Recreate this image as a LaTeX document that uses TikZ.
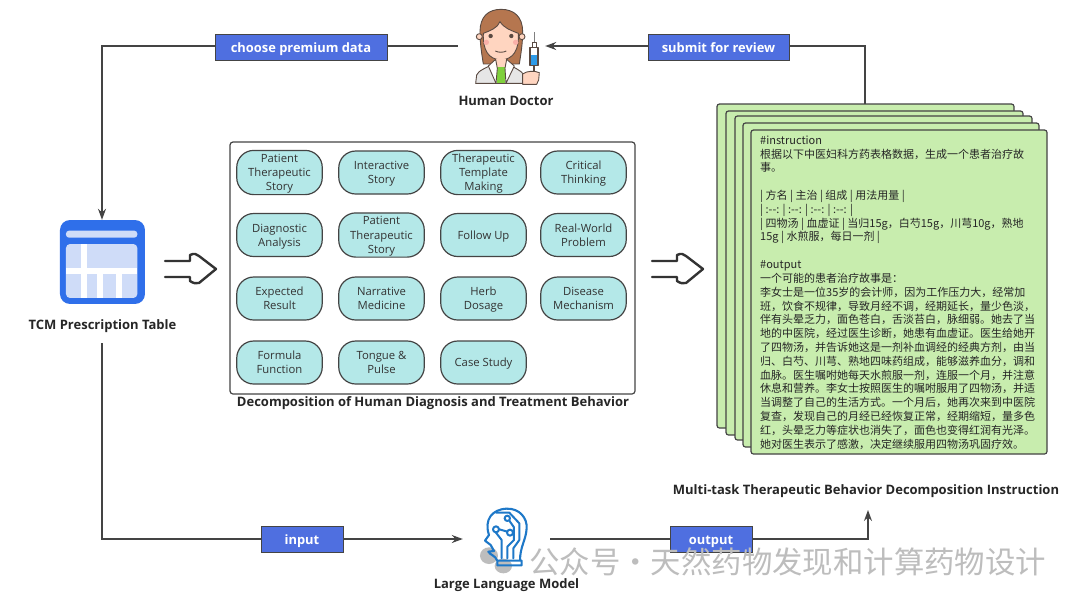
\documentclass[tikz,border=0pt]{standalone}
\usepackage{fontspec}
\setmainfont{Open Sans}
\newfontfamily\cjk{Noto Sans CJK SC}
\usetikzlibrary{arrows.meta}
\definecolor{linec}{HTML}{444444}
\definecolor{labelblue}{HTML}{4F6FE0}
\definecolor{pillfill}{HTML}{B4E8E8}
\definecolor{cardfill}{HTML}{C8EDAE}
\definecolor{tblue}{HTML}{2F6FEA}
\definecolor{tlight}{HTML}{CFDCF8}
\definecolor{iconline}{HTML}{5A4A42}
\definecolor{llmblue}{HTML}{1E78C8}
\definecolor{wm}{HTML}{BDBDBD}
\definecolor{hair}{HTML}{B5764F}
\definecolor{skin}{HTML}{FFD5C0}
\definecolor{cheek}{HTML}{F9B0A8}
\definecolor{coat}{HTML}{E6E6E6}
\definecolor{shirt}{HTML}{7FD03C}
\definecolor{fluid}{HTML}{2E9BE8}
\newcommand\pf{\rule{0pt}{12pt}}
\newcommand\pl{\rule[-3.8pt]{0pt}{3.8pt}}
\tikzset{
  conn/.style={draw=linec,line width=1.3pt},
  arr/.style={conn,-{Stealth[length=11pt,width=8pt]}},
  taglabel/.style={draw=linec,line width=0.9pt,fill=labelblue,text=white,font=\fontsize{12.9}{14}\selectfont\bfseries,minimum height=26pt,inner sep=0pt,anchor=center,text height=12.5pt,text depth=2pt},
  pill/.style={draw=linec,line width=1.2pt,fill=pillfill,rounded corners=17pt,minimum width=85.5pt,minimum height=43pt,inner sep=0pt,align=center,text=black!80,font=\fontsize{11.3}{14.2}\selectfont},
  caption/.style={font=\fontsize{13}{15}\selectfont\bfseries,text=black!85,inner sep=0pt},
  card/.style={draw=linec,line width=1.2pt,fill=cardfill,rounded corners=2.5pt},
  bigarrow/.style={draw=black!80,line width=2.4pt,line cap=round,line join=round},
  ghost/.style={inner sep=0pt,minimum width=#1},
}
\begin{document}
\begin{tikzpicture}[x=1pt,y=-1pt]
\useasboundingbox (0,0) rectangle (1080,606);
\fill[white] (0,0) rectangle (1080,606);

% anchors
\node[ghost=87pt,minimum height=74pt] (doctor) at (501.5,46) {};
\node[ghost=84pt,minimum height=84pt] (table) at (102,262) {};
\node[caption] (tablecap) at (102.5,326.5) {TCM Prescription Table};
\node[ghost=87pt,minimum height=60pt] (llm) at (506.5,539) {};
\coordinate (stacktop) at (865,104);
\coordinate (resultcap) at (868,510);
\coordinate (tl) at (102,46);
\coordinate (tr) at (865,46);
\coordinate (bl) at (102,539);
\coordinate (br) at (868,539);
\coordinate (tb) at (102,343);

% connectors
\draw[arr] (doctor.west) -- (tl) -- (table.north);
\draw[arr] (stacktop) -- (tr) -- (doctor.east);
\draw[arr] (tb) -- (bl) -- (llm.west);
\draw[arr] (llm.east) -- (br) -- (resultcap);

% connector labels
\node[taglabel,minimum width=172pt] (choose) at (301,47) {choose premium data};
\node[taglabel,minimum width=141pt] (submit) at (718.5,47) {submit for review};
\node[taglabel,minimum width=82pt] (input) at (302,539) {input};
\node[taglabel,minimum width=82pt] (output) at (711,539) {output};

% doctor icon
\begin{scope}[shift={(420,0)},x=0.3333pt,y=-0.3333pt,line join=round]
  \fill[coat,draw=iconline,line width=0.9pt] (167,250) -- (170,225) .. controls (175,212) and (195,205) .. (225,190) -- (262,190) .. controls (285,205) and (305,212) .. (312,225) -- (312,250) -- cycle;
  \fill[shirt] (232,200) rectangle (255,250);
  \fill[hair,draw=iconline,line width=0.9pt] (190,192) .. controls (185,160) and (180,130) .. (180,95) .. controls (180,50) and (205,28) .. (243,28) .. controls (282,28) and (308,50) .. (308,95) .. controls (308,130) and (303,160) .. (298,192) -- cycle;
  \fill[skin,draw=iconline,line width=0.9pt] (178,110) circle (9) (306,110) circle (9);
  \fill[skin,draw=iconline,line width=0.9pt] (190,100) .. controls (210,92) and (232,85) .. (240,65) .. controls (252,85) and (275,92) .. (295,100) .. controls (298,150) and (280,178) .. (243,180) .. controls (205,178) and (188,150) .. (190,100) -- cycle;
  \fill[cheek] (199,127) circle (8) (287,127) circle (8);
  \fill[iconline] (212,108) circle (6.5) (274,108) circle (6.5);
  \draw[iconline,line width=0.9pt] (226,153) .. controls (235,158) and (250,158) .. (259,153);
  \fill[skin] (225,178) rectangle (262,200);
  \fill[white,draw=iconline,line width=0.9pt] (227,178) -- (205,198) -- (228,250) -- (232,205) -- cycle;
  \fill[white,draw=iconline,line width=0.9pt] (260,178) -- (283,198) -- (258,250) -- (255,205) -- cycle;
  \draw[iconline,line width=0.9pt] (167,250) -- (312,250);
  \draw[gray,line width=0.9pt] (342,97) -- (342,128);
  \fill[white,draw=iconline,line width=0.9pt] (336,128) rectangle (348,143);
  \fill[white] (330,143) rectangle (354,197);
  \fill[fluid] (331,166) rectangle (353,196);
  \draw[iconline,line width=1.3pt] (330,143) rectangle (354,197);
  \draw[iconline,line width=1.5pt] (342,197) -- (342,215);
  \fill[skin,draw=iconline,line width=0.9pt] (308,222) .. controls (320,212) and (345,212) .. (358,218) -- (356,240) -- (350,253) -- (308,253) -- cycle;
\end{scope}
\node[caption] (doctorcap) at (506,100.5) {Human Doctor};

% table icon
\begin{scope}[shift={(20,200)},x=0.3333pt,y=-0.3333pt]
  \fill[tblue,rounded corners=10pt] (120,60) rectangle (375,312);
  \fill[tlight,rounded corners=3pt] (138,92) rectangle (352,113);
  \fill[tlight,rounded corners=4pt] (138,132) rectangle (352,294);
  \fill[white] (183,132) rectangle (202,294);
  \fill[white] (138,203) rectangle (352,222);
  \fill[white] (232,222) rectangle (250,294);
  \fill[white] (288,222) rectangle (306,294);
\end{scope}

% big arrows
\draw[bigarrow] (165,261) -- (190,261) -- (190,255) .. controls (194,253) and (197,254) .. (199,256) -- (216,269) -- (199,283) .. controls (196,284) and (193,283) .. (190,281) -- (190,277) -- (165,277);
\draw[bigarrow,shift={(487,0)}] (165,261) -- (190,261) -- (190,255) .. controls (194,253) and (197,254) .. (199,256) -- (216,269) -- (199,283) .. controls (196,284) and (193,283) .. (190,281) -- (190,277) -- (165,277);

% behaviour box
\node[draw=linec,line width=1.2pt,rounded corners=3pt,minimum width=405pt,minimum height=252pt,inner sep=0pt] (behav) at (432.5,268) {};
\node[pill] (p11) at (279.5,172.5) {\pf Patient\\Therapeutic\\Story\pl};
\node[pill] (p12) at (381.5,172.5) {\pf Interactive\\Story\pl};
\node[pill] (p13) at (483.5,172.5) {\pf Therapeutic\\Template\\Making\pl};
\node[pill] (p14) at (583.5,172.5) {\pf Critical\\Thinking\pl};
\node[pill] (p21) at (279.5,235) {\pf Diagnostic\\Analysis\pl};
\node[pill] (p22) at (381.5,235) {\pf Patient\\Therapeutic\\Story\pl};
\node[pill] (p23) at (483.5,235) {\pf Follow Up\pl};
\node[pill] (p24) at (583.5,235) {\pf Real-World\\Problem\pl};
\node[pill] (p31) at (279.5,298.5) {\pf Expected\\Result\pl};
\node[pill] (p32) at (381.5,298.5) {\pf Narrative\\Medicine\pl};
\node[pill] (p33) at (483.5,298.5) {\pf Herb\\Dosage\pl};
\node[pill] (p34) at (583.5,298.5) {\pf Disease\\Mechanism\pl};
\node[pill] (p41) at (279.5,362.5) {\pf Formula\\Function\pl};
\node[pill] (p42) at (381.5,362.5) {\pf Tongue \&\\Pulse\pl};
\node[pill] (p43) at (483.5,362.5) {\pf Case Study\pl};
\node[caption] (behavcap) at (433,403.5) {Decomposition of Human Diagnosis and Treatment Behavior};

% stacked cards
\draw[card] (717,104) rectangle (1014,428);
\draw[card] (726,111) rectangle (1023,435);
\draw[card] (735,116) rectangle (1032,440);
\draw[card] (743,123) rectangle (1039,447);
\draw[card] (751,130) rectangle (1047,454);
\node[anchor=north west,inner sep=0pt,align=left,text=black!85,font=\cjk\fontsize{11}{13.82}\selectfont] (cardtext) at (760,135.5) {%
\#instruction\\
根据以下中医妇科方药表格数据，生成一个患者治疗故\\
事。\\
\mbox{}\\
| 方名 | 主治 | 组成 | 用法用量 |\\
| :--: | :--: | :--: | :--: |\\
| 四物汤 | 血虚证 | 当归15g，白芍15g，川芎10g，熟地\\
15g | 水煎服，每日一剂 |\\
\mbox{}\\
\#output\\
一个可能的患者治疗故事是：\\
李女士是一位35岁的会计师，因为工作压力大，经常加\\
班，饮食不规律，导致月经不调，经期延长，量少色淡，\\
伴有头晕乏力，面色苍白，舌淡苔白，脉细弱。她去了当\\
地的中医院，经过医生诊断，她患有血虚证。医生给她开\\
了四物汤，并告诉她这是一剂补血调经的经典方剂，由当\\
归、白芍、川芎、熟地四味药组成，能够滋养血分，调和\\
血脉。医生嘱咐她每天水煎服一剂，连服一个月，并注意\\
休息和营养。李女士按照医生的嘱咐服用了四物汤，并适\\
当调整了自己的生活方式。一个月后，她再次来到中医院\\
复查，发现自己的月经已经恢复正常，经期缩短，量多色\\
红，头晕乏力等症状也消失了，面色也变得红润有光泽。\\
她对医生表示了感激，决定继续服用四物汤巩固疗效。};
\node[caption] (stackcap) at (866,491.5) {Multi-task Therapeutic Behavior Decomposition Instruction};

% LLM icon
\begin{scope}[shift={(420,490)},x=0.3333pt,y=-0.3333pt,line cap=round,line join=round]
  \fill[wm] (207,197) ellipse (27 and 25);
  \fill[wm] (250,228) ellipse (26 and 22);
  \draw[llmblue,line width=2.1pt] (232,212) .. controls (225,195) and (210,195) .. (205,185) -- (222,183) -- (212,165) -- (195,152) -- (207,135) .. controls (192,90) and (215,58) .. (260,56) .. controls (300,55) and (322,85) .. (320,115) .. controls (318,150) and (300,170) .. (300,212) -- (232,212) -- (232,226) -- (305,226) -- (305,212) -- (300,212);
  \draw[llmblue,line width=2pt] (228,68) -- (268,68) -- (298,100) -- (298,150) -- (280,175) -- (280,205);
  \draw[llmblue,line width=2pt] (268,92) -- (282,112) -- (282,150) -- (262,170) -- (262,205);
  \draw[llmblue,line width=2pt] (228,128) -- (245,150) -- (245,205);
  \draw[llmblue,line width=2pt] (238,118) -- (262,125);
  \draw[llmblue,line width=2pt] (262,85) circle (8) (228,118) circle (9) (270,128) circle (9);
\end{scope}
\node[caption] (llmcap) at (506.5,585) {Large Language Model};

% watermark
\node[anchor=west,inner sep=0pt,text=wm,font=\cjk\fontsize{30.4}{32}\selectfont] (watermark) at (529,562) {公众号·天然药物发现和计算药物设计};
\end{tikzpicture}
\end{document}
